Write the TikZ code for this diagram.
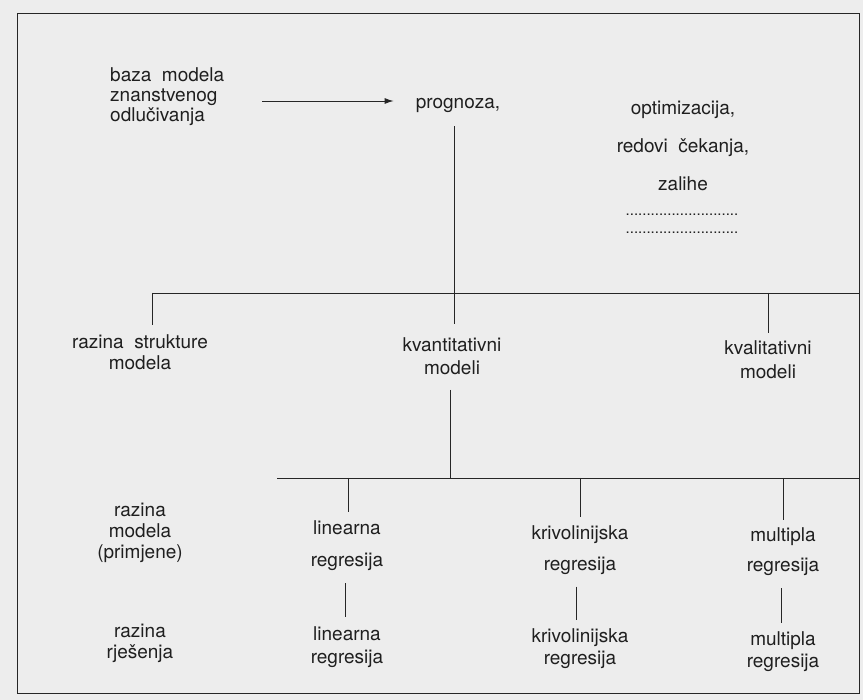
\documentclass[tikz,border=0pt]{standalone}
\usepackage{fontspec}
\setmainfont{TeX Gyre Heros}
\usetikzlibrary{arrows.meta}
\begin{document}
\begin{tikzpicture}[x=1pt,y=-1pt,
  txt/.style={font=\fontsize{19}{20}\selectfont, align=center, inner sep=0pt, text=black!88},
  conn/.style={draw=black!85, line width=0.9pt},
  arr/.style={conn, -{Latex[length=9pt,width=6pt]}}]
\fill[black!7] (0,0) rectangle (863,700);
\useasboundingbox (0,0) rectangle (863,700);
\draw[conn] (17,13) rectangle (859,693);
% top level
\node[txt, align=left, anchor=west] (baza) at (110,97) {baza~~modela\\znanstvenog\\odlu\v{c}ivanja};
\node[txt] (prog) at (458,105) {prognoza,};
\node[txt] (optim) at (683,146) {optimizacija,\\[18pt]redovi~~\v{c}ekanja,\\[18pt]zalihe};
\node[txt, font=\fontsize{15}{18}\selectfont] (dots) at (682,224) {...........................\\...........................};
% structure level
\node[txt] (strukt) at (140,352) {razina~~strukture\\[1pt]modela};
\node[txt] (kvant) at (452,356) {kvantitativni\\[3pt]modeli};
\node[txt] (kval) at (768,360) {kvalitativni\\[4pt]modeli};
% model level
\node[txt] (razmod) at (140,533) {razina\\[1pt]modela\\[1pt](primjene)};
\node[txt] (lin1) at (347,546) {linearna\\[12pt]regresija};
\node[txt] (kriv1) at (580,550) {krivolinijska\\[11pt]regresija};
\node[txt] (mult1) at (783,552) {multipla\\[10pt]regresija};
% solution level
\node[txt] (razrj) at (140,643) {razina\\[1pt]rje\v{s}enja};
\node[txt] (lin2) at (347,647) {linearna\\[3pt]regresija};
\node[txt] (kriv2) at (580,649) {krivolinijska\\[2pt]regresija};
\node[txt] (mult2) at (783,652) {multipla\\[2pt]regresija};
% bars
\coordinate (b1L) at (152,293);
\coordinate (b1R) at (859,293);
\coordinate (b2L) at (277,478);
\coordinate (b2R) at (859,478);
% connectors
\coordinate (a0) at (262,101);
\draw[arr] (a0) -- ([xshift=-22pt]prog.west |- a0);
\draw[conn] (b1L) -- (b1R);
\draw[conn] (b2L) -- (b2R);
\draw[conn] ([yshift=-14pt]prog.south -| 454,0) -- ([yshift=13pt]kvant.north -| 454,0);
\draw[conn] (b1L) -- ([yshift=9pt]strukt.north -| b1L);
\draw[conn] (768,293) -- ([yshift=8pt]kval.north);
\draw[conn] ([yshift=-15pt]kvant.south -| 450,0) -- (450,478);
\draw[conn] (348,478) -- ([yshift=9pt]lin1.north -| 348,0);
\draw[conn] (580,478) -- ([yshift=8pt]kriv1.north);
\draw[conn] (783,478) -- ([yshift=8pt]mult1.north);
\draw[conn] ([yshift=-12pt]lin1.south -| 345,0) -- ([yshift=9pt]lin2.north -| 345,0);
\draw[conn] ([yshift=-12pt]kriv1.south -| 576,0) -- ([yshift=9pt]kriv2.north -| 576,0);
\draw[conn] ([yshift=-12pt]mult1.south -| 781,0) -- ([yshift=9pt]mult2.north -| 781,0);
\end{tikzpicture}
\end{document}
